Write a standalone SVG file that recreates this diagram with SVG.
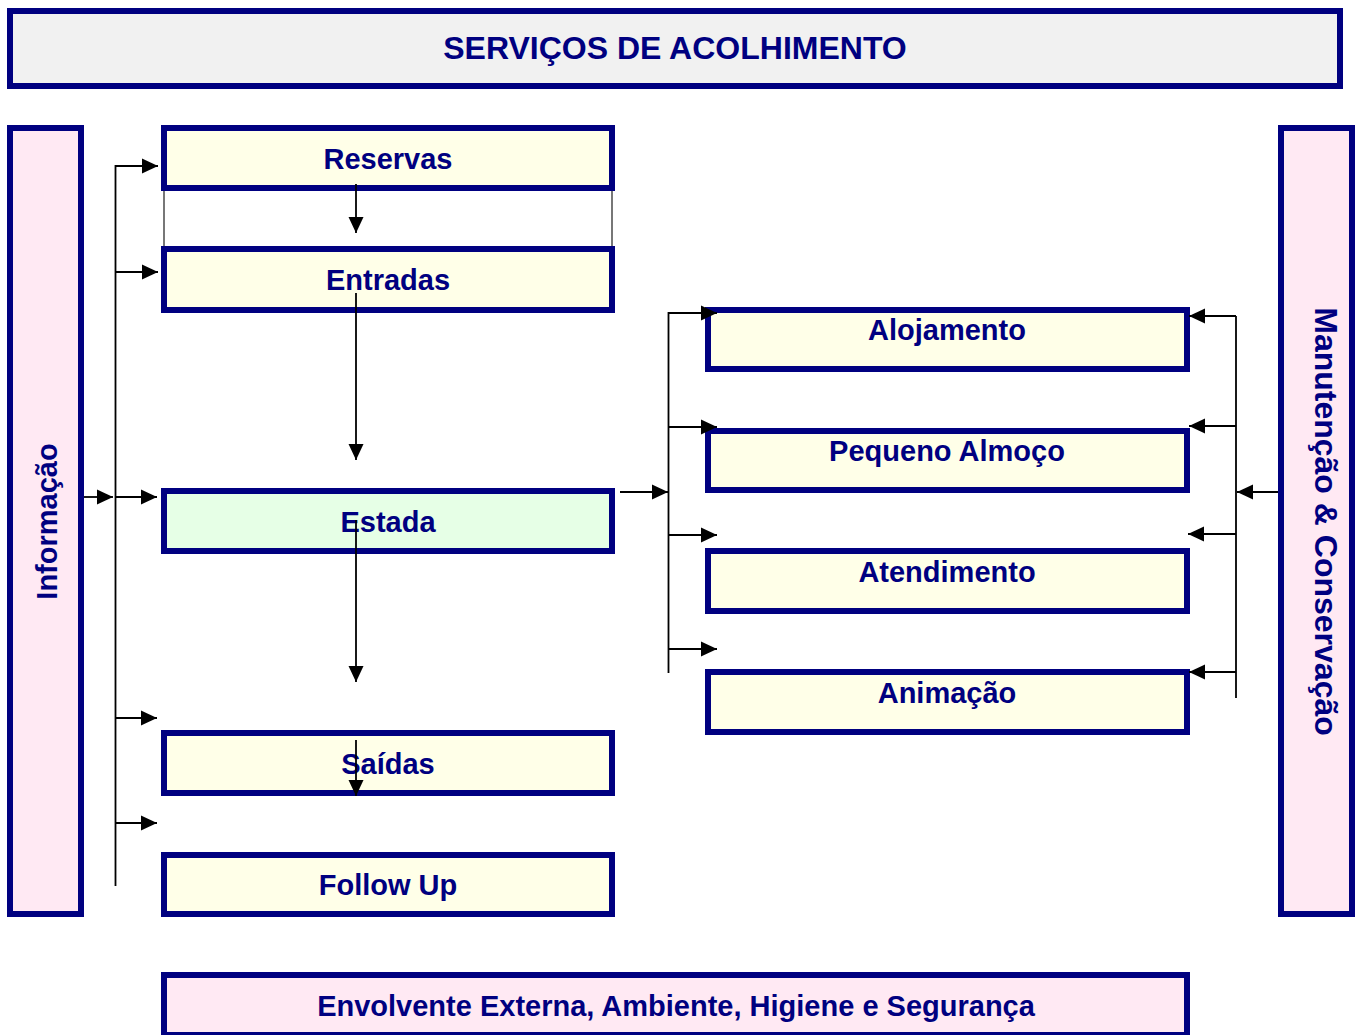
<svg xmlns="http://www.w3.org/2000/svg" width="1356" height="1035" viewBox="0 0 1356 1035">
<style>
  .box{stroke:#000080;stroke-width:6}
  .yel{fill:#ffffe8}
  .pink{fill:#ffe9f3}
  .grn{fill:#e6ffe6}
  .ttl{fill:#f1f1f1}
  text{font-family:"Liberation Sans",Arial,sans-serif;font-weight:bold;fill:#000080;text-anchor:middle}
  .lbl{font-size:29px}
  .big{font-size:32px}
  .con line{stroke:#000;stroke-width:1.8}
  .con line.gray{stroke:#555;stroke-width:1.6}
</style>
<defs>
  <marker id="ah" markerUnits="userSpaceOnUse" markerWidth="18" markerHeight="18" viewBox="0 0 18 18" refX="16" refY="9" orient="auto">
    <path d="M0,1.5 L16,9 L0,16.5 Z" fill="#000"/>
  </marker>
</defs>
<rect width="1356" height="1035" fill="#fff"/>

<g id="title"><rect class="box ttl" x="10" y="11" width="1330" height="75"/><text class="big" x="675" y="59">SERVIÇOS DE ACOLHIMENTO</text></g>
<g id="informacao"><rect class="box pink" x="10" y="128" width="71" height="786"/><text class="lbl" transform="translate(57,521.5) rotate(-90)">Informação</text></g>
<g id="manutencao"><rect class="box pink" x="1281" y="128" width="71" height="786"/><text class="big" transform="translate(1315,521.5) rotate(90)">Manutenção &amp; Conservação</text></g>

<g id="reservas"><rect class="box yel" x="164" y="128" width="448" height="60"/><text class="lbl" x="388" y="169">Reservas</text></g>
<g id="entradas"><rect class="box yel" x="164" y="249" width="448" height="61"/><text class="lbl" x="388" y="290">Entradas</text></g>
<g id="estada"><rect class="box grn" x="164" y="491" width="448" height="60"/><text class="lbl" x="388" y="532">Estada</text></g>
<g id="saidas"><rect class="box yel" x="164" y="733" width="448" height="60"/><text class="lbl" x="388" y="774">Saídas</text></g>
<g id="followup"><rect class="box yel" x="164" y="855" width="448" height="59"/><text class="lbl" x="388" y="895">Follow Up</text></g>

<g id="alojamento"><rect class="box yel" x="708" y="310" width="479" height="59"/><text class="lbl" x="947" y="340">Alojamento</text></g>
<g id="pequenoalmoco"><rect class="box yel" x="708" y="431" width="479" height="59"/><text class="lbl" x="947" y="461">Pequeno Almoço</text></g>
<g id="atendimento"><rect class="box yel" x="708" y="551" width="479" height="60"/><text class="lbl" x="947" y="582">Atendimento</text></g>
<g id="animacao"><rect class="box yel" x="708" y="672" width="479" height="60"/><text class="lbl" x="947" y="703">Animação</text></g>

<g id="envolvente"><rect class="box pink" x="164" y="975" width="1023" height="60"/><text class="lbl" x="676" y="1016">Envolvente Externa, Ambiente, Higiene e Segurança</text></g>

<g id="connectors" class="con">
  <line class="gray" x1="164" y1="191" x2="164" y2="246"/>
  <line class="gray" x1="612" y1="191" x2="612" y2="246"/>
  <line x1="115.5" y1="165" x2="115.5" y2="886"/>
  <line x1="115" y1="166" x2="158" y2="166" marker-end="url(#ah)"/>
  <line x1="115" y1="272" x2="158" y2="272" marker-end="url(#ah)"/>
  <line x1="84" y1="497" x2="113" y2="497" marker-end="url(#ah)"/>
  <line x1="115" y1="497" x2="157" y2="497" marker-end="url(#ah)"/>
  <line x1="115" y1="718" x2="157" y2="718" marker-end="url(#ah)"/>
  <line x1="115" y1="823" x2="157" y2="823" marker-end="url(#ah)"/>
  <line x1="356" y1="184" x2="356" y2="233" marker-end="url(#ah)"/>
  <line x1="356" y1="293" x2="356" y2="460" marker-end="url(#ah)"/>
  <line x1="356" y1="520" x2="356" y2="682" marker-end="url(#ah)"/>
  <line x1="356" y1="740" x2="356" y2="796" marker-end="url(#ah)"/>
  <line x1="620" y1="492" x2="668" y2="492" marker-end="url(#ah)"/>
  <line x1="668.5" y1="312" x2="668.5" y2="673"/>
  <line x1="668" y1="313" x2="717" y2="313" marker-end="url(#ah)"/>
  <line x1="668" y1="427" x2="717" y2="427" marker-end="url(#ah)"/>
  <line x1="668" y1="535" x2="717" y2="535" marker-end="url(#ah)"/>
  <line x1="668" y1="649" x2="717" y2="649" marker-end="url(#ah)"/>
  <line x1="1278" y1="492" x2="1237" y2="492" marker-end="url(#ah)"/>
  <line x1="1236" y1="316" x2="1236" y2="698"/>
  <line x1="1236" y1="316" x2="1189" y2="316" marker-end="url(#ah)"/>
  <line x1="1236" y1="426" x2="1189" y2="426" marker-end="url(#ah)"/>
  <line x1="1236" y1="534" x2="1188" y2="534" marker-end="url(#ah)"/>
  <line x1="1236" y1="672" x2="1189" y2="672" marker-end="url(#ah)"/>
</g>
</svg>
